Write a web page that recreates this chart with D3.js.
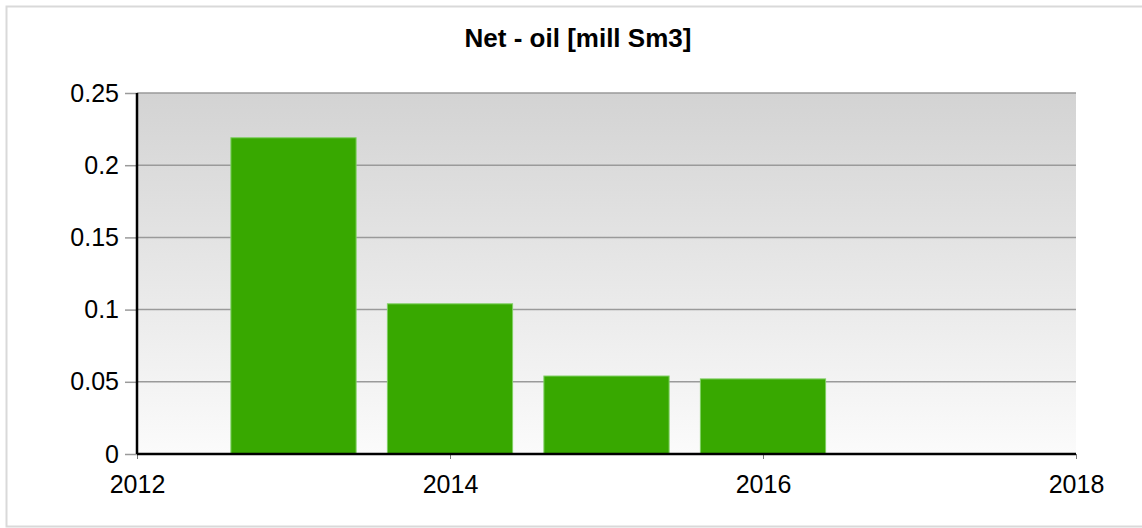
<!DOCTYPE html>
<html>
<head>
<meta charset="utf-8">
<script src="https://cdn.jsdelivr.net/npm/d3@7"></script>
<style>
  html, body { margin: 0; padding: 0; background: #fff; overflow: hidden; }
  text { font-family: "Liberation Sans", Arial, sans-serif; }
</style>
</head>
<body>
<div id="chart"></div>
<script>
// data
const years = [2013, 2014, 2015, 2016];
const netOil = [0.219, 0.104, 0.054, 0.052];
const yTicks = [0, 0.05, 0.1, 0.15, 0.2, 0.25];
const xTicks = [2012, 2014, 2016, 2018];
const title = "Net - oil [mill Sm3]";

const WIDTH = 1142, HEIGHT = 528;
const plotL = 137, plotR = 1076, plotT = 93, plotB = 454;

const svg = d3.select('#chart').append('svg')
  .attr('width', WIDTH)
  .attr('height', HEIGHT);

// outer frame (right side runs off the picture)
svg.append('rect')
  .attr('x', 6.5).attr('y', 6.5)
  .attr('width', WIDTH + 20).attr('height', 520)
  .attr('fill', '#fff')
  .attr('stroke', '#d9d9d9')
  .attr('stroke-width', 2);

const x = d3.scaleLinear().domain([2012, 2018]).range([plotL, plotR]);
const y = d3.scaleLinear().domain([0, 0.25]).range([plotB, plotT]);

// background gradient of plot area
const defs = svg.append('defs');
const grad = defs.append('linearGradient')
  .attr('id', 'bg').attr('x1', 0).attr('y1', 0).attr('x2', 0).attr('y2', 1);
grad.append('stop').attr('offset', '0%').attr('stop-color', '#d3d3d3');
grad.append('stop').attr('offset', '100%').attr('stop-color', '#fbfbfb');

svg.append('rect')
  .attr('x', plotL).attr('y', plotT)
  .attr('width', plotR - plotL).attr('height', plotB - plotT)
  .attr('fill', 'url(#bg)');

// grid lines + y ticks
svg.append('g')
  .selectAll('line')
  .data(yTicks.filter(d => d > 0))
  .enter()
  .append('line')
  .attr('x1', plotL).attr('x2', plotR)
  .attr('y1', d => y(d)).attr('y2', d => y(d))
  .attr('stroke', '#9a9a9a')
  .attr('stroke-width', 1.5);

const yAxis = svg.append('g')
  .attr('transform', 'translate(' + plotL + ',0)')
  .call(d3.axisLeft(y).tickValues(yTicks).tickSize(12).tickPadding(6).tickFormat(d3.format('')));
yAxis.select('.domain').remove();
yAxis.selectAll('.tick line').attr('stroke', '#9a9a9a').attr('stroke-width', 1.5);
yAxis.selectAll('.tick text')
  .attr('fill', '#000')
  .style('font-size', '25px')
  .attr('dy', '0.32em');

// bars
const barW = x(2012.8) - x(2012);
svg.append('g')
  .selectAll('rect')
  .data(years.map((yr, i) => ({ yr: yr, v: netOil[i] })))
  .enter()
  .append('rect')
  .attr('x', d => x(d.yr) - barW / 2)
  .attr('y', d => y(d.v))
  .attr('width', barW)
  .attr('height', d => y(0) - y(d.v))
  .attr('fill', '#38a800')
  .attr('stroke', '#7fcf62')
  .attr('stroke-width', 1);

// axes lines
svg.append('line')
  .attr('x1', plotL).attr('x2', plotL)
  .attr('y1', plotT).attr('y2', plotB)
  .attr('stroke', '#000').attr('stroke-width', 2.5);

const xAxis = svg.append('g')
  .attr('transform', 'translate(0,' + plotB + ')')
  .call(d3.axisBottom(x).tickValues(xTicks).tickSize(5).tickPadding(16).tickFormat(d3.format('d')));
xAxis.select('.domain').remove();
xAxis.selectAll('.tick line').attr('stroke', '#777').attr('stroke-width', 1);
xAxis.selectAll('.tick text')
  .attr('fill', '#000')
  .style('font-size', '25px');

svg.append('line')
  .attr('x1', plotL).attr('x2', plotR)
  .attr('y1', plotB).attr('y2', plotB)
  .attr('stroke', '#000').attr('stroke-width', 2.5);

// title
svg.append('text')
  .attr('x', 578)
  .attr('y', 47)
  .attr('text-anchor', 'middle')
  .style('font-size', '26px')
  .style('font-weight', 'bold')
  .text(title);
</script>
</body>
</html>
